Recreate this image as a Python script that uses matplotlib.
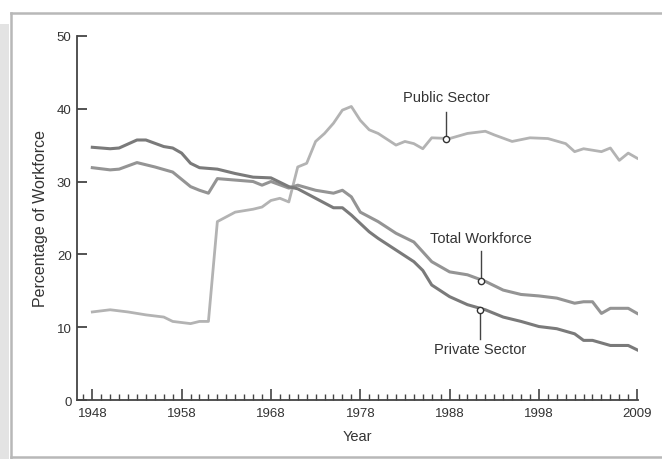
import matplotlib
matplotlib.use("Agg")
import matplotlib.pyplot as plt
from matplotlib.patches import Rectangle
from matplotlib.lines import Line2D
from matplotlib.ticker import MultipleLocator

plt.rcParams['font.family'] = ['Liberation Sans', 'DejaVu Sans']

# values
private_years = [1948, 1950, 1951, 1953, 1954, 1956, 1957, 1958, 1959, 1960, 1962, 1964, 1966, 1968,
                 1970, 1971, 1973, 1975, 1976, 1977, 1979, 1980, 1982, 1984, 1985, 1986, 1988, 1990,
                 1992, 1994, 1996, 1998, 2000, 2002, 2003, 2004, 2006, 2008, 2009]
private_vals = [34.7, 34.5, 34.6, 35.7, 35.7, 34.8, 34.6, 33.9, 32.5, 31.9, 31.7, 31.1, 30.6, 30.5,
                29.3, 29.0, 27.7, 26.4, 26.4, 25.4, 23.1, 22.2, 20.6, 19.0, 17.8, 15.8, 14.2, 13.1,
                12.4, 11.4, 10.8, 10.1, 9.8, 9.1, 8.2, 8.2, 7.5, 7.5, 6.9]

total_years = [1948, 1950, 1951, 1953, 1955, 1957, 1959, 1960, 1961, 1962, 1964, 1966, 1967, 1968,
               1970, 1971, 1973, 1975, 1976, 1977, 1978, 1980, 1982, 1984, 1986, 1988, 1990, 1992,
               1994, 1996, 1998, 2000, 2002, 2003, 2004, 2005, 2006, 2008, 2009]
total_vals = [31.9, 31.6, 31.7, 32.6, 32.0, 31.3, 29.3, 28.8, 28.4, 30.4, 30.2, 30.0, 29.5, 30.0,
              29.1, 29.5, 28.8, 28.4, 28.8, 27.9, 25.8, 24.5, 22.9, 21.7, 19.0, 17.6, 17.2, 16.3,
              15.1, 14.5, 14.3, 14.0, 13.3, 13.5, 13.5, 11.9, 12.6, 12.6, 11.9]

public_years = [1948, 1950, 1952, 1954, 1956, 1957, 1959, 1960, 1961, 1962, 1964, 1966, 1967, 1968,
                1969, 1970, 1971, 1972, 1973, 1974, 1975, 1976, 1977, 1978, 1979, 1980, 1982, 1983,
                1984, 1985, 1986, 1988, 1990, 1992, 1993, 1995, 1997, 1999, 2001, 2002, 2003, 2005,
                2006, 2007, 2008, 2009]
public_vals = [12.1, 12.4, 12.1, 11.7, 11.4, 10.8, 10.5, 10.8, 10.8, 24.5, 25.8, 26.2, 26.5, 27.4,
               27.7, 27.2, 32.0, 32.5, 35.5, 36.6, 38.0, 39.8, 40.3, 38.4, 37.1, 36.6, 35.0, 35.5,
               35.2, 34.5, 36.0, 35.9, 36.6, 36.9, 36.4, 35.5, 36.0, 35.9, 35.2, 34.1, 34.5, 34.1,
               34.6, 32.9, 33.9, 33.2]

# (label, marker year, marker value, line end value, label value)
callouts = [("Public Sector", 1987.6, 35.9, 39.6, 41.6),
            ("Total Workforce", 1991.5, 16.4, 20.4, 22.2),
            ("Private Sector", 1991.4, 12.4, 8.4, 7.0)]

fig = plt.figure(figsize=(6.62, 4.60), dpi=100)

# outer frame and grey strip
fig.add_artist(Rectangle((0, 0), 0.014, 0.945, transform=fig.transFigure, color='#e3e3e3', lw=0))
fig.add_artist(Line2D([0.017, 1.0], [0.970, 0.970], transform=fig.transFigure, color='#b8b8b8', lw=1.8))
fig.add_artist(Line2D([0.017, 0.017], [0.003, 0.970], transform=fig.transFigure, color='#b8b8b8', lw=1.8))
fig.add_artist(Line2D([0.017, 1.0], [0.004, 0.004], transform=fig.transFigure, color='#b8b8b8', lw=1.8))

ax = fig.add_axes([0.1165, 0.128, 0.848, 0.792])

ax.plot(public_years, public_vals, color='#b3b3b3', lw=2.0, solid_joinstyle='round')
ax.plot(total_years, total_vals, color='#949494', lw=2.2, solid_joinstyle='round')
ax.plot(private_years, private_vals, color='#7a7a7a', lw=2.2, solid_joinstyle='round')

for label, yr, val, end, ly in callouts:
    ax.plot([yr, yr], [val, end], color='#444444', lw=1.0)
    ax.plot(yr, val, 'o', ms=4.5, mfc='white', mec='#333333', mew=1.0, zorder=5)
    ax.text(yr, ly, label, ha='center', va='center', fontsize=10.5, color='#333333')

ax.set_xlim(1946.3, 2009.15)
ax.set_ylim(0, 50)

for s in ['top', 'right']:
    ax.spines[s].set_visible(False)
for s in ['left', 'bottom']:
    ax.spines[s].set_color('#444444')
    ax.spines[s].set_linewidth(1.3)

ax.set_yticks([0, 10, 20, 30, 40, 50])
ax.tick_params(axis='y', direction='in', length=7, width=1.3, color='#444444',
               labelsize=9.5, labelcolor='#333333', pad=4)

ax.set_xticks([1948, 1958, 1968, 1978, 1988, 1998, 2009])
ax.set_xticklabels(['1948', '1958', '1968', '1978', '1988', '1998', '2009'])
ax.xaxis.set_minor_locator(MultipleLocator(1))
ax.tick_params(axis='x', which='major', direction='in', length=8, width=1.2, color='#444444',
               labelsize=9.5, labelcolor='#333333', pad=5)
ax.tick_params(axis='x', which='minor', direction='in', length=4.5, width=1.0, color='#444444')

ax.set_xlabel('Year', fontsize=10.5, color='#333333', labelpad=7)
ax.set_ylabel('Percentage of Workforce', fontsize=11.5, color='#333333', labelpad=6)

fig.savefig('out.png', dpi=100)
